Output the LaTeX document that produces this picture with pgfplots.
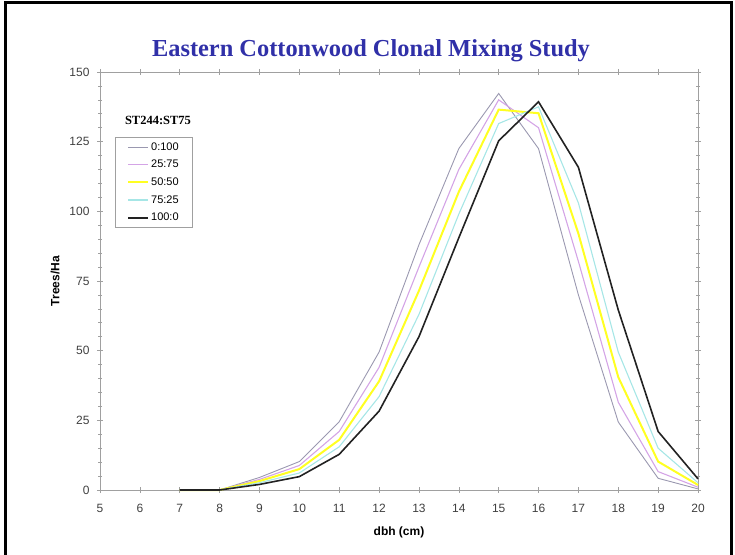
\documentclass[border=0pt]{standalone}
\usepackage{pgfplots}
\pgfplotsset{compat=1.18}
\usepackage{fontspec}
\setmainfont{Liberation Sans}
\newfontfamily\seriffont{Liberation Serif}
\definecolor{titleblue}{HTML}{3030A8}
\definecolor{axgray}{HTML}{A0A0A0}
\definecolor{cA}{HTML}{9A98B0}
\definecolor{cB}{HTML}{D4A4E6}
\definecolor{cC}{HTML}{FFFF22}
\definecolor{cD}{HTML}{A6E6E6}
\definecolor{cE}{HTML}{222222}
\begin{document}
\begin{tikzpicture}
\path[use as bounding box] (0pt,0pt) rectangle (735pt,554pt);
\draw[line width=3pt,black] (5pt,-10pt) -- (5pt,551.5pt) -- (731pt,551.5pt) -- (731pt,-10pt);
\node[font=\seriffont\bfseries\fontsize{24.4}{28}\selectfont, text=titleblue] at (371pt,503pt) {Eastern Cottonwood Clonal Mixing Study};
\begin{axis}[
  at={(100pt,64pt)}, anchor=south west,
  scale only axis, width=598pt, height=418pt,
  xmin=5, xmax=20, ymin=0, ymax=150,
  xtick={5,...,20}, ytick={0,25,...,150},
  minor y tick num=4,
  tick align=center,
  major tick length=6pt, minor tick length=4pt,
  axis line style={axgray, line width=0.8pt},
  every tick/.style={axgray, line width=0.6pt},
  tick label style={font=\fontsize{12}{13}\selectfont, text=black!75},
  xticklabel style={yshift=-8pt},
  yticklabel style={xshift=-4pt},
  /pgf/number format/assume math mode=true,
  xlabel={\bfseries dbh (cm)}, ylabel={\bfseries Trees/Ha},
  label style={font=\fontsize{12}{13}\selectfont},
  xlabel style={yshift=-7pt},
  ylabel style={yshift=3pt},
  legend style={at={(rel axis cs:0.025,0.844)}, anchor=north west, draw=axgray, fill=white,
     font=\fontsize{11}{12}\selectfont, row sep=4.5pt, inner xsep=12pt, inner ysep=3pt},
  legend cell align=left,
  legend image code/.code={\draw[#1] (0pt,0pt) -- (20pt,0pt);},
  clip=false,
]
\addplot[cA, line width=0.9pt] coordinates {(7,0)(8,0)(9,4.5)(10,10.2)(11,24.5)(12,49.5)(13,88)(14,122.5)(15,142.3)(16,122.5)(17,70)(18,24.4)(19,4.2)(20,0.4)};
\addplot[cB, line width=1.1pt] coordinates {(7,0)(8,0)(9,3.8)(10,8.8)(11,21)(12,44)(13,80)(14,115)(15,140)(16,130)(17,82)(18,31.5)(19,6.6)(20,1)};
\addplot[cC, line width=2pt] coordinates {(7,0)(8,0)(9,3.2)(10,7.5)(11,18)(12,39)(13,71.5)(14,107)(15,136.5)(16,135.2)(17,92)(18,40.5)(19,10.2)(20,1.8)};
\addplot[cD, line width=1.1pt] coordinates {(7,0)(8,0)(9,2.6)(10,6.1)(11,15.5)(12,33.5)(13,63)(14,99)(15,131.5)(16,137.5)(17,103)(18,49.5)(19,15)(20,2.6)};
\addplot[cE, line width=1.6pt] coordinates {(7,0)(8,0)(9,2)(10,4.8)(11,12.8)(12,28.3)(13,55)(14,90.5)(15,125.3)(16,139.3)(17,115.8)(18,64.6)(19,21)(20,4)};
\legend{0:100,25:75,50:50,75:25,100:0}
\node[font=\seriffont\bfseries\fontsize{12.5}{14}\selectfont, anchor=center] at (rel axis cs:0.097,0.883) {ST244:ST75};
\end{axis}
\end{tikzpicture}
\end{document}
